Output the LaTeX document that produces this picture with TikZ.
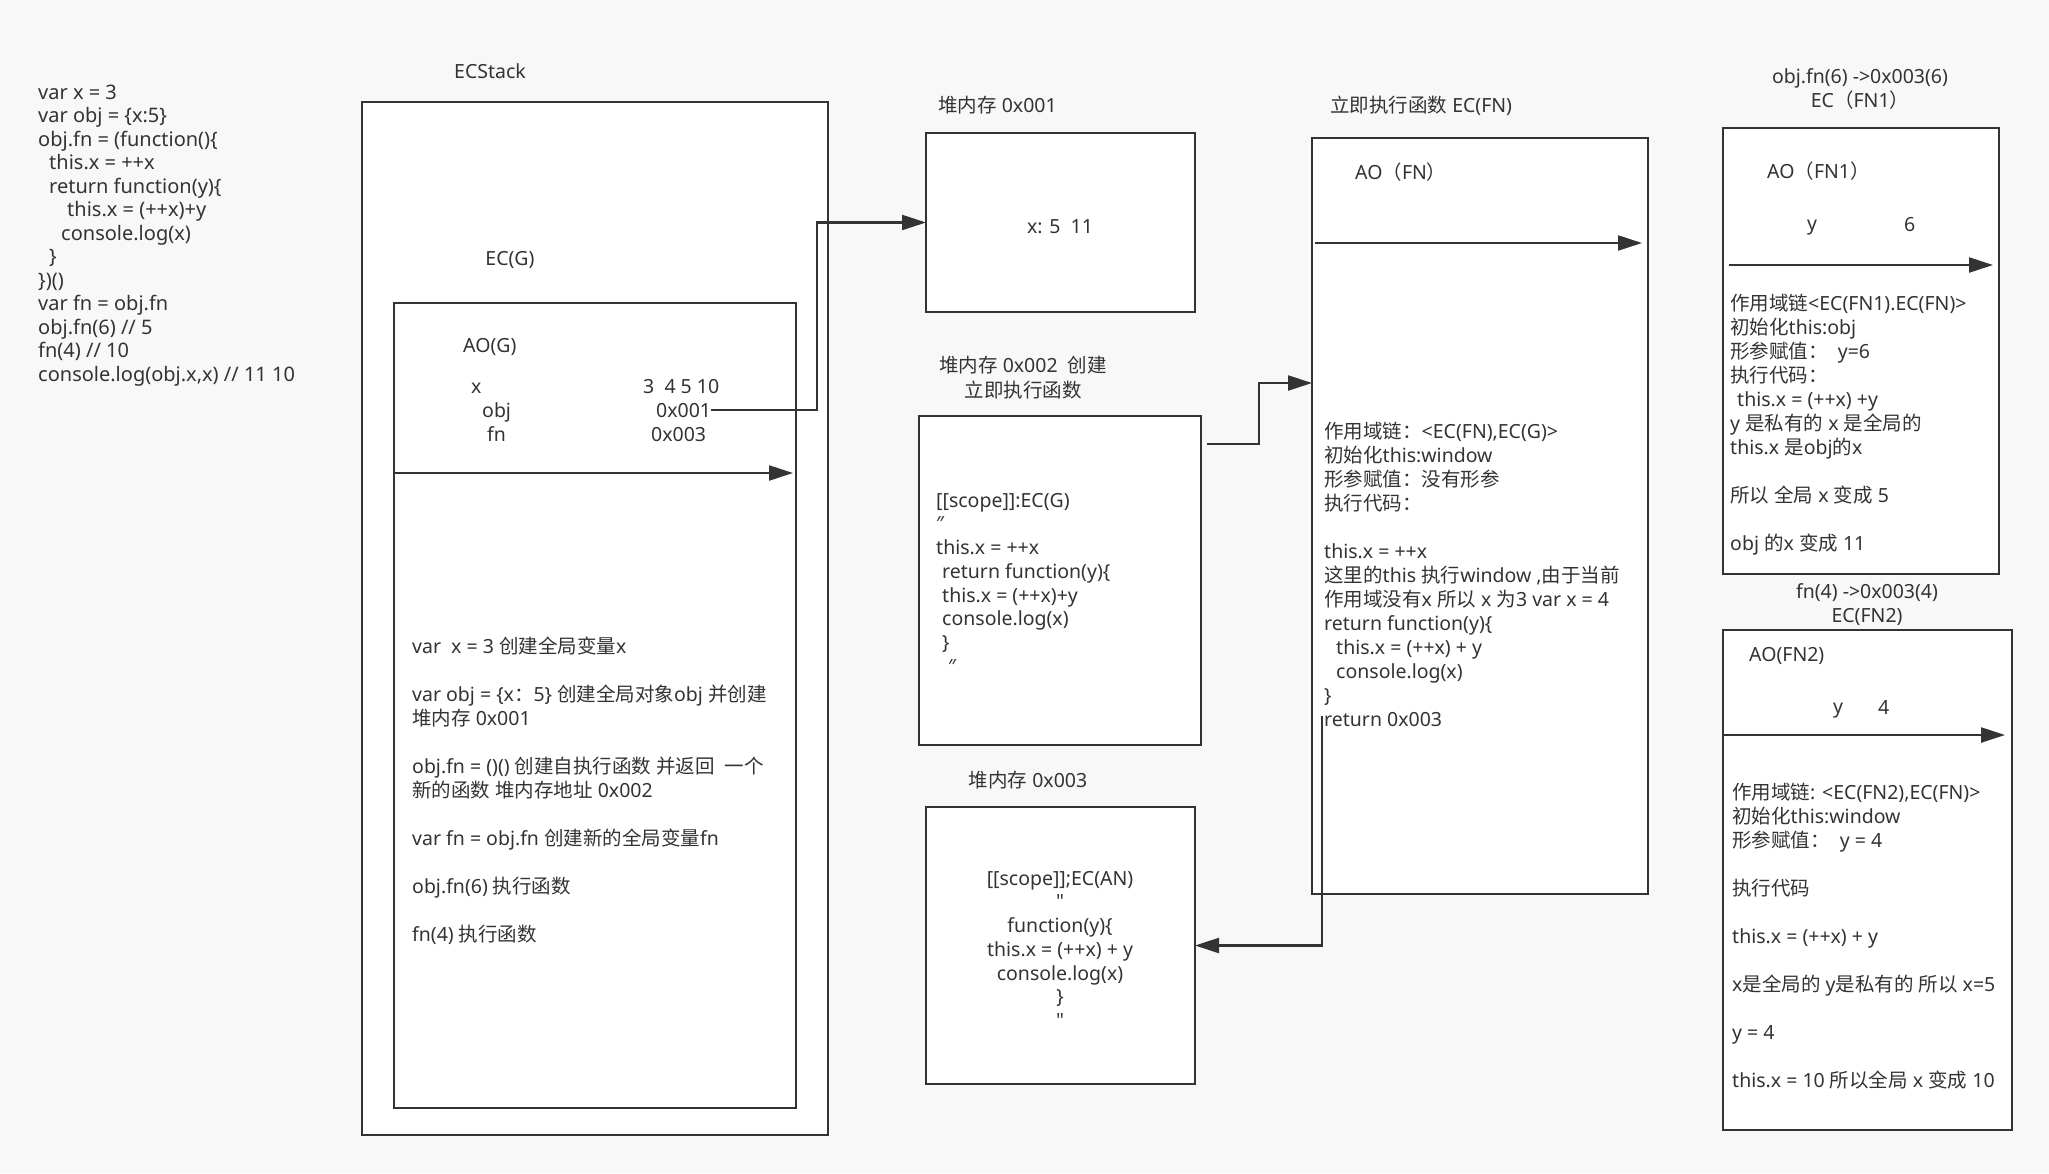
\documentclass[tikz,border=0pt]{standalone}
\usepackage{fontspec}
\setmainfont{Noto Sans}
\newfontfamily\latinfont{Noto Sans}
\newfontfamily\cjkfont{Noto Sans CJK SC}
\usetikzlibrary{arrows.meta,calc}
\XeTeXinterchartokenstate=1
\chardef\CJKcls=100
\makeatletter
\count@="3000
\loop \XeTeXcharclass\count@=\CJKcls \ifnum\count@<"303F \advance\count@ by 1 \repeat
\count@="4E00
\loop \XeTeXcharclass\count@=\CJKcls \ifnum\count@<"9FFF \advance\count@ by 1 \repeat
\count@="FF00
\loop \XeTeXcharclass\count@=\CJKcls \ifnum\count@<"FFEF \advance\count@ by 1 \repeat
\makeatother
\XeTeXinterchartoks 0 \CJKcls = {\cjkfont}
\XeTeXinterchartoks 4095 \CJKcls = {\cjkfont}
\XeTeXinterchartoks \CJKcls 0 = {\latinfont}
\XeTeXinterchartoks \CJKcls 4095 = {\latinfont}
\definecolor{ln}{HTML}{333333}
\definecolor{bg}{HTML}{F8F8F8}
\newcommand\fs{\rule{0pt}{18pt}}
\newcommand\sq{{\latinfont"}}
\begin{document}
\begin{tikzpicture}[x=1pt,y=-1pt,
  every node/.style={font=\fontsize{19.5}{24}\selectfont, text=ln},
  box/.style={draw=ln, fill=white, line width=2.8pt, outer sep=0pt, inner sep=0pt},
  arr/.style={draw=ln, line width=2.2pt, -{Triangle[length=24pt,width=15pt]}},
  tl/.style={anchor=north west, inner sep=0pt, align=left},
  tc/.style={anchor=north, inner sep=0pt, align=center},
  lb/.style={anchor=base west, inner sep=0pt},
  lc/.style={anchor=base, inner sep=0pt}]
\fill[bg] (0,0) rectangle (2049,1173);
\useasboundingbox (0,0) rectangle (2049,1173);

% boxes
\node[box, minimum width=466pt, minimum height=1033pt] (ecstack) at (595,618.5) {};
\node[box, minimum width=402pt, minimum height=805pt] (ecg) at (595,705.5) {};
\node[box, minimum width=269pt, minimum height=179pt] (heap1) at (1060.5,222.5) {};
\node[box, minimum width=282pt, minimum height=329pt] (heap2) at (1060,580.5) {};
\node[box, minimum width=269pt, minimum height=277pt] (heap3) at (1060.5,945.5) {};
\node[box, minimum width=336pt, minimum height=756pt] (ecfn) at (1480,516) {};
\node[box, minimum width=276pt, minimum height=446pt] (fn1) at (1861,351) {};
\node[box, minimum width=289pt, minimum height=500pt] (fn2) at (1867.5,880) {};

% code
\node[tl, font=\fontsize{20}{23.5}\selectfont] (code) at (38,81) {\fs var x = 3\\
var obj = \{x:5\}\\
obj.fn = (function()\{\\
\hspace*{11pt}this.x = ++x\\
\hspace*{11pt}return function(y)\{\\
\hspace*{29pt}this.x = (++x)+y\\
\hspace*{23pt}console.log(x)\\
\hspace*{11pt}\}\\
\})()\\
var fn = obj.fn\\
obj.fn(6) // 5\\
fn(4) // 10\\
console.log(obj.x,x) // 11 10};

% ECStack
\node[lc] (lstack) at (490,78) {ECStack};
\node[lc] (lecg) at (510,265) {EC(G)};
\node[lb] (aog) at (463,352) {AO(G)};
\node[lb] (vx) at (471,393) {x};
\node[lb] (vobj) at (482,417) {obj};
\node[lb] (vfn) at (487,441) {fn};
\node[lb] (xv) at (643,393) {3\ \ 4 5 10};
\node[lb] (objv) at (656,417) {0x001};
\node[lb] (fnv) at (651,441) {0x003};
\node[tl] (ecgtxt) at (412,635) {\fs var\ \ x = 3 创建全局变量x\\[24pt]
var obj = \{x：5\} 创建全局对象obj 并创建\\
堆内存 0x001\\[24pt]
obj.fn = ()() 创建自执行函数 并返回\ \ 一个\\
新的函数 堆内存地址 0x002\\[24pt]
var fn = obj.fn 创建新的全局变量fn\\[24pt]
obj.fn(6) 执行函数\\[24pt]
fn(4) 执行函数};

% heap 1
\node[lb] (lh1) at (938,112) {堆内存 0x001};
\node[lc] (h1txt) at (1060,233) {x: 5\ \ 11};

% heap 2
\node[tc, font=\fontsize{19.5}{25}\selectfont] (lh2) at (1023,354) {\fs 堆内存 0x002\ \ 创建\\立即执行函数};
\node[tl, font=\fontsize{19.5}{23.7}\selectfont] (h2txt) at (936,489) {\fs [[scope]]:EC(G)\\
″\\
this.x = ++x\\
\hspace*{6pt}return function(y)\{\\
\hspace*{6pt}this.x = (++x)+y\\
\hspace*{6pt}console.log(x)\\
\hspace*{6pt}\}\\
\hspace*{12pt}″};

% heap 3
\node[lc] (lh3) at (1028,787) {堆内存 0x003};
\node[tc, font=\fontsize{19.5}{23.7}\selectfont] (h3txt) at (1060,867) {\fs [[scope]];EC(AN)\\
\sq\\
function(y)\{\\
this.x = (++x) + y\\
console.log(x)\\
\}\\
\sq};

% EC(FN)
\node[lb] (lfn) at (1330,112) {立即执行函数 EC(FN)};
\node[lb] (aofn) at (1355,179) {AO（FN）};
\node[tl] (fntxt) at (1324,420) {\fs 作用域链：<EC(FN),EC(G)>\\
初始化this:window\\
形参赋值：没有形参\\
执行代码：\\[24pt]
this.x = ++x\\
这里的this 执行window ,由于当前\\
作用域没有x 所以 x 为3 var x = 4\\
return function(y)\{\\
\hspace*{12pt}this.x = (++x) + y\\
\hspace*{12pt}console.log(x)\\
\}\\
return 0x003};

% EC(FN1)
\node[tc] (lfn1) at (1860,65) {\fs obj.fn(6) ->0x003(6)\\EC（FN1）};
\node[lb] (aofn1) at (1767,178) {AO（FN1）};
\node[lb] (y1) at (1807,230) {y};
\node[lb] (v1) at (1904,231) {6};
\node[tl] (fn1txt) at (1730,292) {\fs 作用域链<EC(FN1).EC(FN)>\\
初始化this:obj\\
形参赋值：\ \ y=6\\
执行代码：\\
\hspace*{7pt}this.x = (++x) +y\\
y 是私有的 x 是全局的\\
this.x 是obj的x\\[24pt]
所以 全局 x 变成 5\\[24pt]
obj 的x 变成 11};

% EC(FN2)
\node[tc] (lfn2) at (1867,580) {\fs fn(4) ->0x003(4)\\EC(FN2)};
\node[lb] (aofn2) at (1749,661) {AO(FN2)};
\node[lb] (y2) at (1833,713) {y};
\node[lb] (v2) at (1878,714) {4};
\node[tl] (fn2txt) at (1732,781) {\fs 作用域链: <EC(FN2),EC(FN)>\\
初始化this:window\\
形参赋值：\ \ y = 4\\[24pt]
执行代码\\[24pt]
this.x = (++x) + y\\[24pt]
x是全局的 y是私有的 所以 x=5\\[24pt]
y = 4\\[24pt]
this.x = 10 所以全局 x 变成 10};

% separators inside boxes
\draw[arr] ($(ecg.north west)+(0,170)$) -- ($(ecg.north east)+(-3,170)$);
\draw[arr] ($(ecfn.north west)+(3,105)$) -- ($(ecfn.north east)+(-6,105)$);
\draw[arr] ($(fn1.north west)+(6,137)$) -- ($(fn1.north east)+(-6,137)$);
\draw[arr] ($(fn2.north west)+(1,105)$) -- ($(fn2.north east)+(-7,105)$);

% connectors
\coordinate (ret) at (1322,716);
\draw[arr] (objv.east) -- ++(106,0) |- (heap1.west);
\draw[arr] ($(heap2.north east)+(6,28)$) -- ++(52,0) |- ($(ecfn.north west)+(0,245)$);
\draw[arr] (ret) |- (heap3.east);
\end{tikzpicture}
\end{document}
